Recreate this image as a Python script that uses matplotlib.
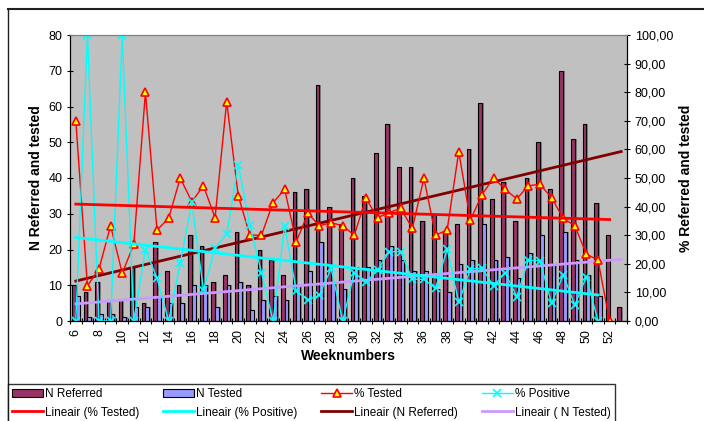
import numpy as np
import matplotlib
matplotlib.use("Agg")
import matplotlib.pyplot as plt
from matplotlib.lines import Line2D

plt.rcParams['font.family'] = ['Liberation Sans', 'DejaVu Sans']

weeks = list(range(6, 54))
n_referred = [10, 8, 11, 6, 6, 15, 5, 22, 14, 10, 24, 21, 11, 13, 25, 10, 20, 17, 13, 36,
              37, 66, 32, 27, 40, 35, 47, 55, 43, 43, 28, 30, 25, 27, 48, 61, 34, 39, 28, 40,
              50, 37, 70, 51, 55, 33, 24, 4]
n_tested = [7, 1, 2, 2, 1, 4, 4, 7, 5, 5, 10, 10, 4, 10, 11, 3, 6, 7, 6, 10,
            14, 22, 11, 9, 15, 15, 17, 21, 17, 14, 14, 9, 8, 16, 17, 27, 17, 18, 12, 19,
            24, 16, 25, 17, 13, 7, 0, 0]
pct_tested = [70.0, 12.3, 18.2, 33.3, 16.7, 26.8, 80.0, 31.8, 35.9, 50.0, 41.7, 47.3, 36.1, 76.7,
              43.8, 30.0, 30.0, 41.4, 46.0, 27.7, 37.6, 33.3, 34.4, 33.3, 30.0, 42.9, 36.1, 37.9,
              39.4, 32.4, 49.9, 30.0, 31.8, 59.2, 35.3, 44.1, 50.1, 46.0, 42.7, 47.3, 47.8, 43.1,
              35.9, 33.3, 23.4, 21.3, 0.0, np.nan]
pct_positive = [0, 100, 0, 0, 100, 0, 25.0, 14.9, 0, 20.2, 41.5, 10.8, 25.5, 30.4,
                54.7, 33.4, 16.9, 0, 33.3, 10.5, 7.3, 9.1, 18.4, 0, 16.9, 13.5, 17.8, 24.2,
                24.2, 14.6, 14.6, 11.4, 25.2, 6.5, 18.1, 18.6, 12.2, 16.9, 8.5, 21.3, 21.0, 6.2,
                16.1, 5.6, 15.5, 0, np.nan, np.nan]


def trend(x, y):
    x = np.asarray(x, dtype=float)
    y = np.asarray(y, dtype=float)
    ok = ~np.isnan(y)
    k, b = np.polyfit(x[ok], y[ok], 1)
    xs = x[ok][[0, -1]]
    return xs, k * xs + b


def main():
    fig = plt.figure(figsize=(7.04, 4.21), dpi=100)
    ax = fig.add_axes([70 / 704, 1 - 321 / 421, 557 / 704, 286 / 421])
    ax.set_facecolor('#C0C0C0')
    ax2 = ax.twinx()

    x = np.array(weeks, dtype=float)
    w = 0.32
    # shadows first, then the bars
    ax.bar(x - w / 2 + 0.15, n_referred, w, color='#808080', zorder=1)
    ax.bar(x + w / 2 + 0.15, n_tested, w, color='#808080', zorder=1)
    b1 = ax.bar(x - w / 2, n_referred, w, color='#993366', edgecolor='black', linewidth=0.8, zorder=2)
    b2 = ax.bar(x + w / 2, n_tested, w, color='#9999FF', edgecolor='black', linewidth=0.8, zorder=2)

    tx, ty = trend(weeks, n_referred)
    l_ref, = ax.plot(tx, ty, color='#800000', lw=2, zorder=3)
    tx, ty = trend(weeks, n_tested)
    l_tst, = ax.plot(tx, ty, color='#CC99FF', lw=2, zorder=3)

    p1, = ax2.plot(x, pct_tested, color='red', lw=1, marker='^', ms=6,
                   mfc='yellow', mec='red', mew=1.2)
    p2, = ax2.plot(x, pct_positive, color='cyan', lw=1, marker='x', ms=6, mew=1.2)
    tx, ty = trend(weeks, pct_tested)
    l_pt, = ax2.plot(tx, ty, color='red', lw=2)
    tx, ty = trend(weeks, pct_positive)
    l_pp, = ax2.plot(tx, ty, color='cyan', lw=2)

    ax.set_xlim(5.5, 53.5)
    ax.set_ylim(0, 80)
    ax2.set_ylim(0, 100)
    ax.set_yticks(range(0, 81, 10))
    ax2.set_yticks(range(0, 101, 10))
    ax2.set_yticklabels([f"{v},00" for v in range(0, 101, 10)])

    ax.set_xticks(np.arange(5.5, 54, 1.0))
    ax.set_xticklabels([])
    ax.set_xticks(range(6, 54, 2), minor=True)
    ax.set_xticklabels([str(v) for v in range(6, 54, 2)], minor=True, rotation=90)
    ax.tick_params(axis='x', which='minor', length=0, pad=6, labelsize=9)
    ax.tick_params(axis='x', which='major', length=4, direction='inout')
    ax.tick_params(axis='y', labelsize=9, length=4, direction='inout')
    ax2.tick_params(axis='y', labelsize=9, length=4, direction='inout')

    for a in (ax, ax2):
        for s in a.spines.values():
            s.set_color('#808080')
        a.spines['left'].set_color('black')
        a.spines['bottom'].set_color('black')
        a.spines['right'].set_color('black')

    ax.set_xlabel("Weeknumbers", fontsize=10, fontweight='bold', labelpad=4)
    ax.set_ylabel("N Referred and tested", fontsize=10, fontweight='bold')
    ax2.set_ylabel("% Referred and tested", fontsize=10, fontweight='bold')

    handles = [b1, l_pt, b2, l_pp, p1, l_ref, p2, l_tst]
    labels = ["N Referred", "Lineair (% Tested)", "N Tested", "Lineair (% Positive)",
              "% Tested", "Lineair (N Referred)", "% Positive", "Lineair ( N Tested)"]
    leg = fig.legend(handles, labels, ncol=4, loc='upper left',
                     bbox_to_anchor=(8 / 704, 0, 607 / 704, 1 - 384 / 421),
                     mode='expand', fontsize=8.5, frameon=True, fancybox=False,
                     borderaxespad=0, handlelength=2.6, handletextpad=0.2,
                     columnspacing=0.8, labelspacing=0.55, borderpad=0.35)
    leg.get_frame().set_edgecolor('black')
    leg.get_frame().set_linewidth(1)

    # outer chart frame (top and left edges visible)
    fig.add_artist(Line2D([8 / 704, 1], [1 - 9 / 421] * 2, color='#202020', lw=1.5))
    fig.add_artist(Line2D([8 / 704] * 2, [0, 1 - 9 / 421], color='#202020', lw=1))

    fig.savefig("out.png", dpi=100)


if __name__ == "__main__":
    main()
